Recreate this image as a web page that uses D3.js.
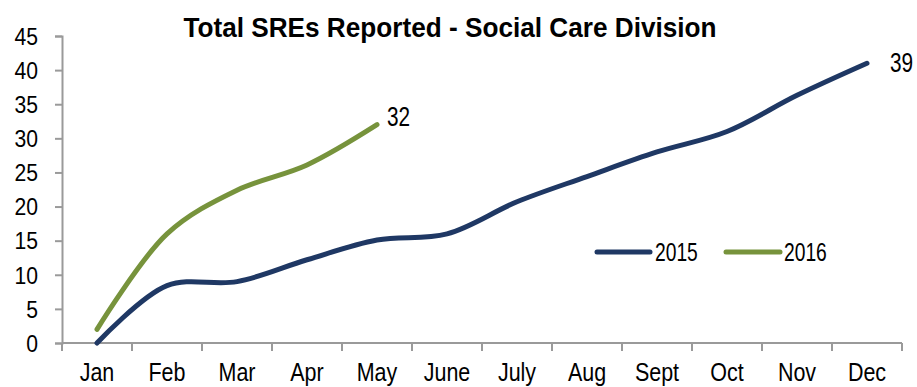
<!DOCTYPE html>
<html><head><meta charset="utf-8">
<script src="https://cdn.jsdelivr.net/npm/d3@7"></script>
<style>body{margin:0;background:#fff}svg{display:block}text{font-family:"Liberation Sans",Arial,sans-serif}</style>
</head><body><svg id="c" width="917" height="387"></svg>
<script>
const months = ["Jan","Feb","Mar","Apr","May","June","July","Aug","Sept","Oct","Nov","Dec"];
const values2015 = [0, 8.4, 9, 12.2, 15.1, 16, 20.7, 24.4, 28, 31, 36.3, 41];
const values2016 = [2, 16, 22.4, 26.1, 32];
const yTicks = [0,5,10,15,20,25,30,35,40,45];
const endLabel2015 = "39";
const endLabel2016 = "32";
const title = "Total SREs Reported - Social Care Division";
const seriesNames = ["2015","2016"];
const colors = ["#1F3864","#77933C"];

const svg = d3.select("#c");
const x = d3.scaleBand().domain(months).range([62, 902]);
const y = d3.scaleLinear().domain([0,45]).range([343, 36]);
const cx = d => x(d) + x.bandwidth()/2;

// narrow a text horizontally around its anchor
function condense(sel, k){
  sel.each(function(){
    const t = d3.select(this);
    const x0 = +t.attr("x") || 0;
    t.attr("x", x0/k).attr("transform", `scale(${k},1)`);
  });
}

// axes
const yAxis = svg.append("g").attr("transform","translate(62,0)")
  .call(d3.axisLeft(y).tickValues(yTicks).tickSize(7).tickPadding(17));
const xAxis = svg.append("g").attr("transform","translate(0,343)")
  .call(d3.axisBottom(x).tickSize(0).tickPadding(0));
[yAxis,xAxis].forEach(g=>{
  g.selectAll(".domain").attr("stroke","#9a9a9a").attr("stroke-width",2);
  g.selectAll("line").attr("stroke","#9a9a9a").attr("stroke-width",2);
  g.selectAll("text").attr("fill","#000");
});
yAxis.selectAll("text").attr("font-size",23).attr("dy","0.36em");
condense(yAxis.selectAll("text"), 0.92);
xAxis.selectAll("text").attr("font-size",25).attr("y",38).attr("dy",0);
condense(xAxis.selectAll("text"), 0.86);
// x tick marks at band boundaries
const bounds = months.map(m=>x(m)).concat([x.range()[1]]);
xAxis.selectAll(".bt").data(bounds).enter().append("line")
  .attr("x1",d=>d).attr("x2",d=>d)
  .attr("y1",0).attr("y2",8).attr("stroke","#9a9a9a").attr("stroke-width",2);
xAxis.select(".domain").attr("d","M62,0H902");

const line = d3.line().x((d,i)=>cx(months[i])).y(d=>y(d)).curve(d3.curveCatmullRom.alpha(0.5));
[values2015, values2016].forEach((vals,k)=>{
  svg.append("path").attr("d",line(vals)).attr("fill","none")
    .attr("stroke",colors[k]).attr("stroke-width",5).attr("stroke-linecap","round");
});
// end labels
const l15 = svg.append("text").attr("x",cx(months[values2015.length-1])+23).attr("y",y(values2015[values2015.length-1])+9)
  .attr("font-size",27).text(endLabel2015);
const l16 = svg.append("text").attr("x",cx(months[values2016.length-1])+10).attr("y",y(values2016[values2016.length-1])+1)
  .attr("font-size",27).text(endLabel2016);
condense(l15, 0.77); condense(l16, 0.77);

// title
const tt = svg.append("text").attr("x",450).attr("y",37).attr("text-anchor","middle")
  .attr("font-size",28).attr("font-weight","bold").text(title);
condense(tt, 0.935);

// legend
const lg = [[597,650,655],[726,780,784]];
seriesNames.forEach((n,k)=>{
  svg.append("line").attr("x1",lg[k][0]).attr("x2",lg[k][1]).attr("y1",252).attr("y2",252)
    .attr("stroke",colors[k]).attr("stroke-width",5).attr("stroke-linecap","round");
  const t = svg.append("text").attr("x",lg[k][2]).attr("y",261).attr("font-size",25).text(n);
  condense(t, 0.77);
});
</script></body></html>
